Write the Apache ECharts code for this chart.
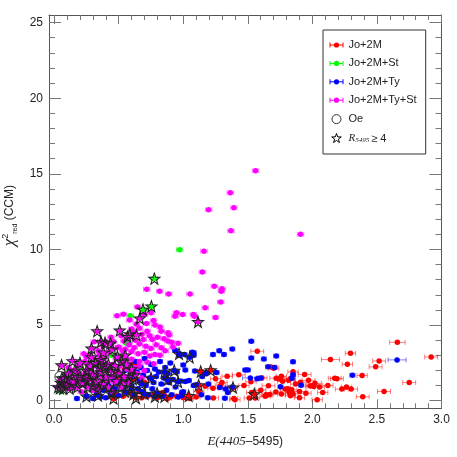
<!DOCTYPE html>
<html><head><meta charset="utf-8">
<script src="https://cdn.jsdelivr.net/npm/echarts@6/dist/echarts.min.js"></script>
<style>html,body{margin:0;padding:0;background:#fff}#c{width:457px;height:457px}</style>
</head><body><div id="c"></div>
<script>
// ---- data: [x = E(4405-5495), y = chi2_red(CCM), x error] ----
const jo2m = [
[2.658,3.86,0.06],[2.92,2.89,0.05],[2.295,3.14,0.04],[1.573,3.27,0.05],[2.14,2.72,0.07],[2.517,2.63,0.05],[2.271,2.41,0.04],[2.49,2.24,0.05],
[2.385,1.67,0.04],[2.75,1.20,0.05],[2.555,0.61,0.05],[2.39,0.26,0.05],[2.037,0.07,0.04],[2.173,1.49,0.05],[2.19,1.46,0.05],[2.264,0.90,0.04],
[2.228,0.77,0.05],[2.30,0.77,0.05],[2.12,1.01,0.04],[2.055,0.90,0.04],[2.0,1.0,0.05],[2.01,0.94,0.05],[1.985,0.97,0.04],[1.94,1.73,0.05],
[1.908,1.23,0.05],[1.90,0.61,0.05],[1.85,1.91,0.04],[1.83,1.46,0.04],[1.815,1.35,0.05],[1.81,0.80,0.04],[1.84,0.72,0.04],[1.82,0.55,0.03],
[1.85,0.45,0.04],[1.83,0.33,0.04],[1.769,1.29,0.04],[1.745,1.43,0.04],[1.72,1.49,0.05],[1.79,0.78,0.04],[1.76,0.45,0.03],[1.717,0.57,0.04],
[1.66,0.99,0.05],[1.648,0.36,0.04],[1.635,0.30,0.04],[1.67,0.42,0.03],[1.70,2.15,0.04],[1.68,2.23,0.04],[1.609,1.51,0.04],[1.524,1.25,0.04],
[1.43,1.71,0.05],[1.38,0.83,0.04],[1.23,0.83,0.04],[1.287,0.99,0.04],[1.233,0.18,0.04],[1.392,0.15,0.03],[1.511,0.18,0.04],[1.558,0.18,0.03],
[1.40,0.07,0.04],[1.64,0.39,0.03],[1.87,1.10,0.04],[1.95,0.50,0.04],[2.08,0.55,0.04],[1.60,0.70,0.04],[1.53,0.55,0.04],[1.47,1.00,0.04],
[1.34,1.62,0.04],[1.30,1.20,0.04],[1.12,0.60,0.04],[1.10,0.25,0.03],[1.05,0.15,0.03],[1.00,0.20,0.03],[0.95,0.30,0.03],[0.90,0.25,0.03],
[0.80,0.20,0.03],[0.76,0.39,0.03],[0.72,0.28,0.03],[0.68,0.20,0.03],[0.66,0.60,0.03],[0.59,0.50,0.03],[0.535,0.30,0.03],[0.487,0.39,0.03],
[0.467,0.28,0.03],[0.547,2.08,0.03],[0.632,1.47,0.03],[0.70,1.20,0.03],[0.55,1.00,0.03],[0.62,2.40,0.03],[0.50,1.60,0.03],[0.45,0.60,0.03],
[0.84,0.55,0.03],[0.88,0.15,0.03],[1.17,0.95,0.04],[1.25,1.45,0.04],[1.97,1.35,0.05],[2.02,1.15,0.05],[1.76,1.62,0.04],[1.90,0.20,0.04]
];
const jo2mSt = [
[0.972,9.98,0.025],[0.59,5.61,0.025],[0.44,3.0,0.025],[0.12,2.0,0.025],[0.2,2.2,0.025],[0.28,2.1,0.025],[0.05,0.6,0.025],[0.07,1.2,0.025],
[0.56,3.8,0.025],[0.33,2.4,0.025]
];
const jo2mTy = [
[0.176,0.15,0.02],[0.25,0.3,0.02],[0.30,0.15,0.02],[0.33,0.5,0.02],[0.36,0.25,0.02],[0.38,0.7,0.02],[0.40,0.2,0.02],[0.42,1.0,0.02],
[0.44,0.5,0.02],[0.45,1.4,0.02],[0.47,0.8,0.02],[0.49,1.2,0.02],[0.50,0.35,0.02],[0.52,1.7,0.02],[0.53,0.9,0.02],[0.55,2.0,0.02],
[0.56,0.55,0.02],[0.57,1.3,0.02],[0.58,2.3,0.02],[0.60,1.0,0.02],[0.61,1.6,0.02],[0.62,0.4,0.02],[0.63,2.6,0.02],[0.64,1.9,0.02],
[0.65,0.8,0.02],[0.66,1.3,0.02],[0.67,2.2,0.02],[0.68,0.6,0.02],[0.69,1.7,0.02],[0.70,2.8,0.02],[0.71,1.0,0.02],[0.72,2.0,0.02],
[0.73,0.4,0.02],[0.74,1.5,0.02],[0.75,2.4,0.02],[0.76,0.8,0.02],[0.77,1.2,0.02],[0.78,2.1,0.02],[0.79,1.6,0.02],[0.80,0.5,0.02],
[0.81,1.9,0.02],[0.82,2.6,0.02],[0.83,1.1,0.02],[0.84,0.3,0.02],[0.85,1.5,0.02],[0.86,2.2,0.02],[0.87,0.7,0.02],[0.88,1.8,0.02],
[0.89,1.2,0.02],[0.90,2.5,0.02],[0.91,0.4,0.02],[0.92,1.4,0.02],[0.936,3.33,0.02],[0.94,0.9,0.02],[0.95,1.9,0.02],[0.96,0.25,0.02],
[0.97,3.0,0.02],[0.98,1.3,0.02],[0.99,0.55,0.02],[1.0,2.37,0.02],[1.016,2.04,0.02],[1.016,1.27,0.02],[1.044,1.34,0.02],[1.08,3.18,0.02],
[1.08,3.0,0.02],[1.09,1.97,0.02],[1.08,1.0,0.02],[1.10,1.05,0.02],[1.168,1.78,0.02],[1.258,1.86,0.02],[1.186,1.84,0.02],[1.146,1.61,0.02],
[1.195,1.1,0.02],[1.284,0.88,0.02],[1.328,0.77,0.02],[1.14,0.39,0.02],[1.19,0.2,0.02],[1.322,0.17,0.02],[1.345,0.55,0.02],[1.38,0.9,0.02],
[1.527,3.93,0.02],[1.38,3.42,0.02],[1.279,3.31,0.02],[1.23,3.05,0.02],[1.315,3.05,0.02],[1.72,2.96,0.02],[1.527,2.83,0.02],[1.624,2.76,0.02],
[1.85,2.57,0.02],[1.658,2.24,0.02],[1.707,2.19,0.02],[1.48,2.04,0.02],[1.50,2.04,0.02],[1.519,1.51,0.06],[1.60,1.51,0.02],[1.85,1.72,0.02],
[1.84,1.49,0.02],[1.753,0.92,0.02],[1.913,1.03,0.02],[1.573,1.45,0.02],[2.31,1.69,0.02],[2.656,2.70,0.07],[1.0,0.6,0.02],[0.99,0.35,0.02],
[1.01,3.05,0.02],[1.07,3.2,0.02]
];
const jo2mTySt = [
[1.56,15.2,0.025],[1.364,13.75,0.025],[1.196,12.63,0.025],[1.392,12.76,0.025],[1.369,11.23,0.025],[1.908,11.0,0.025],[1.16,9.89,0.025],
[1.148,8.51,0.025],[1.24,7.57,0.025],[1.30,7.41,0.025],[1.295,7.24,0.025],[1.052,7.06,0.025],[1.29,6.53,0.025],[1.17,6.14,0.025],
[0.995,5.70,0.025],[1.078,5.70,0.025],[1.086,5.59,0.025],[1.25,5.51,0.025],[0.717,7.37,0.025],[0.817,7.24,0.025],[0.887,7.06,0.025],
[0.487,5.61,0.025],[0.537,5.72,0.025],[0.75,5.81,0.025],[0.947,5.81,0.025],[0.936,5.59,0.025],[0.645,6.2,0.025],[0.70,5.7,0.025],
[0.585,5.33,0.025],[0.637,5.07,0.025],[0.715,5.11,0.025],[0.77,5.3,0.025],[0.78,5.0,0.025],[0.82,4.87,0.025],[0.83,4.6,0.025],
[0.882,4.49,0.025],[0.91,3.86,0.025],
[0.60,4.75,0.025],[0.62,4.55,0.025],[0.66,4.8,0.025],[0.68,4.4,0.025],[0.72,4.6,0.025],[0.74,4.3,0.025],[0.57,4.1,0.025],[0.63,4.0,0.025],
[0.69,4.05,0.025],[0.76,4.05,0.025],[0.80,4.2,0.025],[0.85,4.1,0.025],[0.88,3.95,0.025],[0.58,3.7,0.025],[0.62,3.5,0.025],[0.66,3.75,0.025],
[0.71,3.6,0.025],[0.75,3.45,0.025],[0.79,3.7,0.025],[0.83,3.5,0.025],[0.86,3.3,0.025],[0.60,3.25,0.025],[0.65,3.1,0.025],[0.70,3.2,0.025],
[0.74,2.95,0.025],[0.78,3.05,0.025],[0.82,3.0,0.025],[0.55,2.9,0.025],[0.60,2.75,0.025],[0.66,2.6,0.025],[0.72,2.55,0.025],[0.77,2.45,0.025],
[0.89,4.35,0.025],[0.92,3.55,0.025],[0.96,3.8,0.025],[0.52,4.3,0.025],[0.54,3.95,0.025],[0.50,3.55,0.025],[0.53,3.3,0.025],
[0.05,1.4,0.025],[0.07,1.1,0.025],[0.09,0.9,0.025],[0.10,1.6,0.025],[0.12,1.3,0.025],[0.13,2.0,0.025],[0.15,0.8,0.025],[0.16,1.5,0.025],
[0.18,1.1,0.025],[0.19,2.3,0.025],[0.20,1.8,0.025],[0.21,0.6,0.025],[0.22,1.4,0.025],[0.24,2.6,0.025],[0.25,1.0,0.025],[0.26,1.9,0.025],
[0.27,3.0,0.025],[0.28,1.5,0.025],[0.29,2.2,0.025],[0.30,0.7,0.025],[0.31,1.2,0.025],[0.32,2.7,0.025],[0.33,1.7,0.025],[0.34,3.3,0.025],
[0.35,2.1,0.025],[0.36,1.0,0.025],[0.37,2.5,0.025],[0.38,3.6,0.025],[0.39,1.4,0.025],[0.40,2.9,0.025],[0.41,0.9,0.025],[0.42,2.0,0.025],
[0.43,3.2,0.025],[0.44,1.6,0.025],[0.45,2.4,0.025],[0.46,3.9,0.025],[0.47,1.2,0.025],[0.48,2.8,0.025],[0.49,3.5,0.025],[0.50,1.9,0.025],
[0.51,2.3,0.025],[0.52,1.5,0.025],[0.53,2.6,0.025],[0.55,3.4,0.025],[0.56,2.1,0.025],[0.57,1.6,0.025],[0.58,2.4,0.025],[0.60,1.9,0.025],
[0.62,2.2,0.025],[0.64,1.8,0.025],[0.66,2.3,0.025],[0.68,1.5,0.025],[0.70,2.0,0.025],
[0.23,3.1,0.025],[0.27,2.4,0.025],[0.31,3.9,0.025],[0.35,3.0,0.025],[0.40,3.9,0.025],[0.44,4.2,0.025],[0.37,1.6,0.025],[0.33,0.9,0.025],
[0.29,1.8,0.025],[0.25,2.9,0.025],[0.21,2.5,0.025],[0.17,1.9,0.025],[0.14,1.1,0.025],[0.11,2.2,0.025],[0.42,1.3,0.025],[0.48,1.9,0.025],
[0.54,1.2,0.025]
];
// Oe stars: [x, y]
const oeStars = [[0.044,1.6],[0.08,1.3],[0.15,1.7],[0.2,1.2],[0.27,1.8],[0.33,1.2],[0.45,1.9],[0.37,2.4]];
// R5495 >= 4 : [x, y, group index (0 Jo+2M, 1 +St, 2 +Ty, 3 +Ty+St)]
const rHigh = [
[1.135,1.93,0],[1.212,2.02,0],[1.119,1.03,0],[1.042,0.33,0],[1.385,0.88,0],[1.55,0.44,0],[0.614,0.44,0],[0.634,0.18,0],[0.854,0.28,0],
[0.46,0.15,0],[0.61,1.43,0],
[0.776,8.07,1],[0.753,6.25,1],[0.688,6.03,1],[0.044,0.84,1],[0.06,1.5,1],
[0.967,3.11,2],[1.05,2.87,2],[0.854,1.89,2],[0.96,1.25,2],[0.78,0.28,2],[0.797,0.5,2],[0.25,0.3,2],[0.34,0.35,2],[0.44,0.5,2],
[0.55,0.6,2],[0.6,0.8,2],[0.68,1.1,2],[0.75,1.5,2],[0.7,0.45,2],[0.88,1.4,2],[0.93,2.0,2],
[0.333,4.6,3],[0.508,4.65,3],[0.585,4.41,3],[0.568,4.23,3],[0.637,4.34,3],[0.363,3.9,3],[0.394,3.84,3],[0.289,3.47,3],[0.436,3.79,3],
[0.49,2.92,3],[0.142,2.63,3],[0.057,2.35,3],[0.289,2.89,3],[0.663,5.45,3],[1.114,5.22,3],[0.38,3.2,3],[0.45,3.4,3],[0.55,3.0,3],
[0.52,2.6,3],[0.6,2.1,3],[0.42,2.4,3],[0.35,2.2,3],[0.25,2.0,3],[0.2,1.6,3],[0.15,1.3,3],[0.1,1.0,3],[0.08,1.5,3],[0.05,1.2,3],
[0.03,0.9,3],[0.12,0.8,3],[0.18,0.9,3],[0.22,1.2,3],[0.27,1.4,3],[0.3,1.7,3],[0.33,1.3,3],[0.36,1.9,3],[0.4,1.6,3],[0.44,2.0,3],
[0.47,2.3,3],[0.5,1.8,3],[0.26,0.9,3],[0.3,1.0,3],[0.38,1.1,3],[0.42,0.9,3],[0.48,1.3,3],[0.54,1.6,3],[0.56,2.4,3],[0.58,1.2,3],
[0.62,1.7,3],[0.24,1.6,3],[0.28,2.3,3],[0.32,2.5,3],[0.36,2.7,3],[0.40,2.3,3],[0.2,2.5,3],[0.16,2.0,3],[0.11,1.8,3],[0.07,0.8,3],
[0.34,0.7,3],[0.45,0.6,3],[0.52,0.9,3]
];
const seriesNames = ['Jo+2M','Jo+2M+St','Jo+2M+Ty','Jo+2M+Ty+St'];
const xMajor = [0,0.5,1,1.5,2,2.5,3];
const yMajor = [0,5,10,15,20,25];

// ---- styling ----
const colors = ['#ff0000','#00ff00','#0000ff','#ff00ff'];
const barColors = ['rgba(255,0,0,0.5)','rgba(0,200,0,0.5)','rgba(0,0,255,0.5)','rgba(255,0,255,0.5)'];
const xMinor = [], yMinor = [];
for (let i = 0; i <= 30; i++) if (i % 5) xMinor.push(i / 10);
for (let i = 0; i <= 25; i++) if (i % 5) yMinor.push(i);
const starPath = 'path://M0,-10L2.35,-3.24L9.51,-3.09L3.8,1.24L5.88,8.09L0,4L-5.88,8.09L-3.8,1.24L-9.51,-3.09L-2.35,-3.24Z';
const ebIcon = 'path://M0,0M14,12M0,5.5L4.5,5.5L4.5,6.5L0,6.5ZM9.5,5.5L14,5.5L14,6.5L9.5,6.5ZM0,3.5L1,3.5L1,8.5L0,8.5ZM13,3.5L14,3.5L14,8.5L13,8.5ZM4.4,6A2.6,2.6 0 1 1 9.6,6A2.6,2.6 0 1 1 4.4,6Z';
const oeIcon = 'path://M0,0M14,12M2.5,6A4.5,4.5 0 1 1 11.5,6A4.5,4.5 0 1 1 2.5,6Z';
const starIcon = 'path://M0,0M14,12M7,1L8.18,4.38L11.76,4.45L8.9,6.62L9.94,10.05L7,8L4.06,10.05L5.1,6.62L2.24,4.45L5.82,4.38Z';
const axisCol = '#555', tickCol = '#777', txt = '#222';
const FONT = 'Liberation Sans';

// star objects also carry the dot of their group
const groups = [jo2m, jo2mSt, jo2mTy, jo2mTySt].map((g, k) =>
  g.concat(rHigh.filter(s => s[2] === k).map(s => [s[0], s[1], k === 3 || k === 1 ? 0.025 : 0.02])));

function errSeries(data, k) {
  return {
    type: 'custom', name: 'err' + k, xAxisIndex: 0, yAxisIndex: 0, clip: true, z: 2,
    silent: true, data: data, encode: {x: 0, y: 1},
    renderItem: function (params, api) {
      const x = api.value(0), y = api.value(1), e = api.value(2);
      const a = api.coord([x - e, y]), b = api.coord([x + e, y]);
      const st = {stroke: barColors[k], lineWidth: 1};
      return {type: 'group', children: [
        {type: 'line', shape: {x1: a[0], y1: a[1], x2: b[0], y2: b[1]}, style: st},
        {type: 'line', shape: {x1: a[0], y1: a[1] - 2.5, x2: a[0], y2: a[1] + 2.5}, style: st},
        {type: 'line', shape: {x1: b[0], y1: b[1] - 2.5, x2: b[0], y2: b[1] + 2.5}, style: st}
      ]};
    }
  };
}
function dotSeries(data, k) {
  return {type: 'scatter', name: seriesNames[k], xAxisIndex: 0, yAxisIndex: 0, z: 3,
    data: data.map(d => [d[0], d[1]]), symbol: 'circle', symbolSize: 5.5,
    itemStyle: {color: colors[k], opacity: 1}, emphasis: {disabled: true}};
}
const series = [];
groups.forEach((g, k) => series.push(errSeries(g, k)));
groups.forEach((g, k) => series.push(dotSeries(g, k)));
series.push({type: 'scatter', name: 'Oe', z: 4, data: oeStars, symbol: 'circle', symbolSize: 10,
  itemStyle: {color: 'rgba(0,0,0,0)', borderColor: '#000', borderWidth: 1}, emphasis: {disabled: true}});
series.push({type: 'scatter', name: 'R5495', z: 5, data: rHigh.map(s => [s[0], s[1]]), symbol: starPath, symbolSize: 11,
  itemStyle: {color: 'rgba(0,0,0,0)', borderColor: '#222', borderWidth: 1.1, opacity: 1}, emphasis: {disabled: true}});

function xAx(pos, vals, len, showLine, showLabel) {
  return {type: 'value', min: -0.04, max: 3, position: pos, splitLine: {show: false},
    axisLine: {show: showLine, onZero: false, lineStyle: {color: axisCol, width: 1}},
    axisTick: {show: true, inside: true, length: len, customValues: vals, lineStyle: {color: tickCol}},
    axisLabel: {show: showLabel, customValues: vals, margin: 5, color: txt, fontFamily: FONT, fontSize: 12,
      formatter: v => v.toFixed(1)}};
}
function yAx(pos, vals, len, showLine, showLabel) {
  return {type: 'value', min: -0.5, max: 25.5, position: pos, splitLine: {show: false},
    axisLine: {show: showLine, onZero: false, lineStyle: {color: axisCol, width: 1}},
    axisTick: {show: true, inside: true, length: len, customValues: vals, lineStyle: {color: tickCol}},
    axisLabel: {show: showLabel, customValues: vals, margin: 6, color: txt, fontFamily: FONT, fontSize: 12}};
}
const xAxes = [xAx('bottom', xMajor, 9, true, true), xAx('bottom', xMinor, 5, false, false),
               xAx('top', xMajor, 9, true, false), xAx('top', xMinor, 5, false, false)];
xAxes[0].name = '{i|E(4405}{n|–5495)}';
xAxes[0].nameLocation = 'middle';
xAxes[0].nameGap = 27;
xAxes[0].nameTextStyle = {rich: {
  i: {fontFamily: 'Liberation Serif', fontStyle: 'italic', fontSize: 13, color: txt},
  n: {fontFamily: FONT, fontSize: 12, color: txt}}};
const yAxes = [yAx('left', yMajor, 12, true, true), yAx('left', yMinor, 6, false, false),
               yAx('right', yMajor, 12, true, false), yAx('right', yMinor, 6, false, false)];
yAxes[0].name = '{c|χ}{sup|2}{sub|red}{n| (CCM)}';
yAxes[0].nameLocation = 'middle';
yAxes[0].nameGap = 30;
yAxes[0].nameTextStyle = {padding: [0, 8, 0, 0], rich: {
  c: {fontFamily: 'Liberation Serif', fontStyle: 'italic', fontSize: 17, color: txt, lineHeight: 18},
  sup: {fontFamily: FONT, fontSize: 9, color: txt, verticalAlign: 'top', lineHeight: 18},
  sub: {fontFamily: FONT, fontSize: 7, color: txt, verticalAlign: 'bottom', lineHeight: 18},
  n: {fontFamily: FONT, fontSize: 12, color: txt, lineHeight: 18}}};

const option = {
  animation: false,
  backgroundColor: '#fff',
  grid: {left: 49, right: 15.5, top: 15, bottom: 48.7, containLabel: false, outerBoundsMode: 'none'},
  xAxis: xAxes,
  yAxis: yAxes,
  legend: {
    orient: 'vertical', left: 323, top: 30, padding: [9, 9, 9, 6],
    itemWidth: 14, itemHeight: 12, itemGap: 6.4,
    borderColor: '#333', borderWidth: 1, backgroundColor: '#fff',
    symbolKeepAspect: true,
    textStyle: {fontFamily: FONT, fontSize: 11, color: txt, rich: {
      r: {fontFamily: 'Liberation Serif', fontStyle: 'italic', fontSize: 11, color: txt},
      s: {fontFamily: 'Liberation Serif', fontStyle: 'italic', fontSize: 7, color: txt, verticalAlign: 'bottom', padding: [0, 2, 0, 0]},
      t: {fontFamily: FONT, fontSize: 11, color: txt}}},
    formatter: name => name === 'R5495' ? '{r|R}{s|5495}{t|≥ 4}' : name,
    data: [
      {name: 'Jo+2M', icon: ebIcon}, {name: 'Jo+2M+St', icon: ebIcon},
      {name: 'Jo+2M+Ty', icon: ebIcon}, {name: 'Jo+2M+Ty+St', icon: ebIcon},
      {name: 'Oe', icon: oeIcon, itemStyle: {color: 'rgba(0,0,0,0)', borderColor: '#000', borderWidth: 1}},
      {name: 'R5495', icon: starIcon, itemStyle: {color: 'rgba(0,0,0,0)', borderColor: '#000', borderWidth: 1}}
    ],
    selectedMode: false
  },
  series: series
};
const chart = echarts.init(document.getElementById('c'), null, {renderer: 'canvas'});
chart.setOption(option);
</script></body></html>
